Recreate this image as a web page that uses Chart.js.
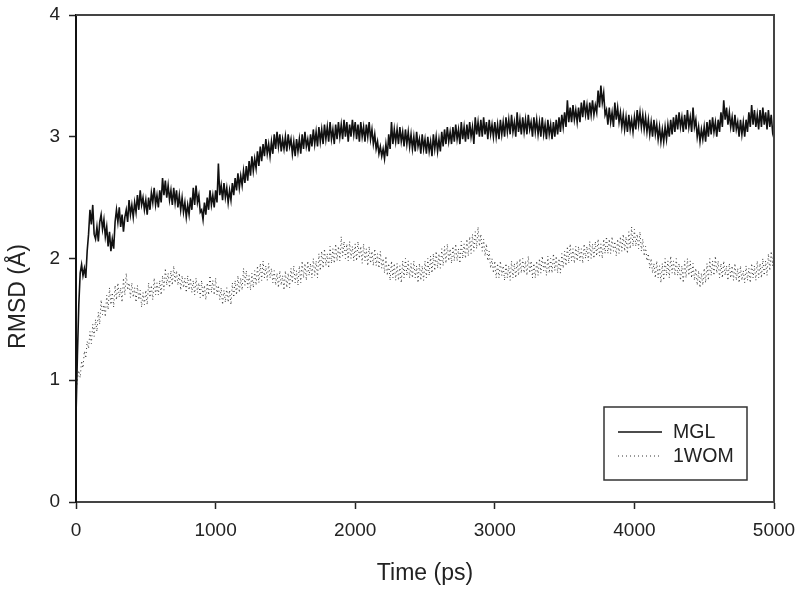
<!DOCTYPE html>
<html>
<head>
<meta charset="utf-8">
<script src="https://cdn.jsdelivr.net/npm/chart.js@4.4.0/dist/chart.umd.min.js"></script>
<style>
  html, body { margin: 0; padding: 0; background: #fff; }
  #wrap { width: 800px; height: 590px; }
</style>
</head>
<body>
<div id="wrap"><canvas id="rmsdChart" width="800" height="590"></canvas></div>
<script>
// sampling step of the trajectories, in ps
const stepPs = 10;

// RMSD (Å), one value every 10 ps, 0..5000 ps (one row = 100 ps)
const mglRmsd = [
  0.70, 1.20, 1.62, 1.88, 1.95, 1.86, 1.92, 1.84, 2.06, 2.20,
  2.40, 2.28, 2.44, 2.20, 2.16, 2.26, 2.14, 2.30, 2.36, 2.24,
  2.32, 2.18, 2.26, 2.10, 2.22, 2.06, 2.16, 2.08, 2.30, 2.40,
  2.30, 2.42, 2.26, 2.36, 2.22, 2.34, 2.40, 2.30, 2.48, 2.36,
  2.44, 2.34, 2.46, 2.38, 2.52, 2.40, 2.56, 2.44, 2.50, 2.40,
  2.48, 2.36, 2.50, 2.40, 2.54, 2.46, 2.58, 2.44, 2.52, 2.42,
  2.56, 2.46, 2.66, 2.52, 2.64, 2.50, 2.60, 2.48, 2.56, 2.44,
  2.58, 2.46, 2.56, 2.42, 2.52, 2.40, 2.50, 2.38, 2.46, 2.34,
  2.44, 2.36, 2.50, 2.40, 2.58, 2.44, 2.60, 2.46, 2.52, 2.38,
  2.40, 2.32, 2.46, 2.36, 2.50, 2.40, 2.56, 2.44, 2.52, 2.42,
  2.56, 2.46, 2.78, 2.52, 2.60, 2.48, 2.62, 2.50, 2.58, 2.46,
  2.56, 2.48, 2.62, 2.52, 2.66, 2.56, 2.70, 2.58, 2.68, 2.60,
  2.72, 2.62, 2.76, 2.64, 2.80, 2.68, 2.84, 2.72, 2.82, 2.74,
  2.88, 2.76, 2.92, 2.80, 2.94, 2.84, 2.98, 2.86, 2.94, 2.84,
  2.96, 2.86, 3.02, 2.90, 3.04, 2.92, 3.02, 2.88, 2.98, 2.90,
  3.00, 2.88, 3.02, 2.92, 2.98, 2.86, 2.96, 2.84, 2.98, 2.88,
  2.98, 2.86, 3.02, 2.90, 3.04, 2.92, 2.98, 2.88, 3.02, 2.92,
  3.06, 2.94, 3.04, 2.92, 3.08, 2.96, 3.06, 2.94, 3.10, 2.98,
  3.08, 2.96, 3.12, 2.98, 3.06, 2.94, 3.10, 2.98, 3.12, 3.00,
  3.10, 2.98, 3.14, 3.00, 3.12, 2.96, 3.10, 3.00, 3.14, 3.02,
  3.12, 2.98, 3.10, 2.96, 3.12, 3.00, 3.08, 2.96, 3.10, 3.00,
  3.12, 2.98, 3.06, 2.94, 3.02, 2.90, 2.96, 2.86, 2.92, 2.84,
  2.90, 2.82, 2.94, 2.84, 3.02, 2.90, 3.12, 2.94, 3.06, 2.96,
  3.06, 2.94, 3.08, 2.96, 3.04, 2.92, 3.06, 2.94, 3.04, 2.92,
  3.02, 2.90, 3.00, 2.88, 3.04, 2.92, 2.98, 2.86, 3.02, 2.90,
  2.98, 2.86, 3.00, 2.88, 2.96, 2.84, 3.02, 2.90, 3.00, 2.88,
  2.98, 2.88, 3.04, 2.92, 3.06, 2.94, 3.08, 2.96, 3.04, 2.94,
  3.08, 2.96, 3.10, 2.98, 3.06, 2.94, 3.12, 2.98, 3.08, 2.96,
  3.10, 2.98, 3.12, 3.00, 3.08, 2.94, 3.16, 3.02, 3.12, 3.00,
  3.14, 3.00, 3.16, 3.02, 3.12, 2.98, 3.14, 3.02, 3.10, 3.00,
  3.12, 3.00, 3.10, 2.98, 3.14, 3.02, 3.12, 3.00, 3.16, 3.04,
  3.14, 3.02, 3.18, 3.04, 3.12, 3.00, 3.20, 3.04, 3.14, 3.02,
  3.16, 3.04, 3.14, 3.02, 3.18, 3.06, 3.12, 3.00, 3.16, 3.04,
  3.14, 3.02, 3.12, 3.00, 3.16, 3.02, 3.10, 2.98, 3.14, 3.02,
  3.10, 2.98, 3.12, 3.00, 3.14, 3.02, 3.16, 3.04, 3.18, 3.08,
  3.20, 3.08, 3.30, 3.12, 3.24, 3.12, 3.26, 3.14, 3.22, 3.12,
  3.24, 3.12, 3.28, 3.16, 3.30, 3.18, 3.26, 3.14, 3.28, 3.18,
  3.30, 3.18, 3.26, 3.20, 3.38, 3.24, 3.42, 3.28, 3.36, 3.18,
  3.22, 3.10, 3.24, 3.12, 3.20, 3.08, 3.28, 3.14, 3.24, 3.12,
  3.20, 3.08, 3.18, 3.06, 3.16, 3.04, 3.18, 3.06, 3.14, 3.04,
  3.16, 3.06, 3.22, 3.10, 3.20, 3.08, 3.18, 3.06, 3.16, 3.04,
  3.14, 3.02, 3.12, 3.00, 3.14, 3.02, 3.10, 2.98, 3.08, 2.96,
  3.06, 2.96, 3.08, 2.98, 3.10, 3.00, 3.14, 3.02, 3.16, 3.04,
  3.18, 3.06, 3.20, 3.08, 3.16, 3.04, 3.18, 3.06, 3.22, 3.08,
  3.16, 3.04, 3.24, 3.08, 3.14, 3.00, 3.08, 2.96, 3.06, 2.98,
  3.08, 2.96, 3.12, 3.00, 3.14, 3.02, 3.16, 3.04, 3.12, 3.00,
  3.14, 3.04, 3.20, 3.08, 3.30, 3.14, 3.24, 3.10, 3.20, 3.08,
  3.16, 3.04, 3.18, 3.06, 3.12, 3.00, 3.14, 3.02, 3.12, 3.00,
  3.14, 3.04, 3.20, 3.08, 3.26, 3.10, 3.22, 3.08, 3.18, 3.06,
  3.22, 3.08, 3.24, 3.10, 3.20, 3.06, 3.22, 3.08, 3.18, 3.04,
  3.10
];

const womRmsd = [
  0.90, 1.00, 1.08, 1.02, 1.16, 1.10, 1.24, 1.18, 1.32, 1.26,
  1.40, 1.30, 1.46, 1.36, 1.50, 1.40, 1.56, 1.46, 1.66, 1.54,
  1.62, 1.52, 1.70, 1.58, 1.76, 1.62, 1.72, 1.60, 1.78, 1.66,
  1.80, 1.68, 1.76, 1.64, 1.84, 1.70, 1.88, 1.74, 1.80, 1.68,
  1.80, 1.68, 1.76, 1.64, 1.78, 1.66, 1.74, 1.60, 1.72, 1.62,
  1.74, 1.62, 1.80, 1.68, 1.78, 1.66, 1.84, 1.70, 1.80, 1.70,
  1.82, 1.70, 1.86, 1.74, 1.92, 1.78, 1.88, 1.76, 1.90, 1.78,
  1.94, 1.80, 1.90, 1.78, 1.88, 1.74, 1.86, 1.76, 1.84, 1.72,
  1.86, 1.74, 1.84, 1.72, 1.82, 1.70, 1.84, 1.72, 1.80, 1.68,
  1.82, 1.68, 1.78, 1.66, 1.80, 1.70, 1.86, 1.72, 1.82, 1.70,
  1.84, 1.70, 1.78, 1.66, 1.76, 1.62, 1.74, 1.64, 1.76, 1.64,
  1.74, 1.62, 1.80, 1.68, 1.82, 1.70, 1.86, 1.72, 1.84, 1.74,
  1.92, 1.78, 1.90, 1.76, 1.86, 1.74, 1.88, 1.76, 1.90, 1.78,
  1.94, 1.80, 1.96, 1.82, 1.98, 1.84, 1.94, 1.82, 1.96, 1.84,
  1.92, 1.80, 1.90, 1.78, 1.88, 1.76, 1.90, 1.78, 1.86, 1.74,
  1.90, 1.76, 1.88, 1.76, 1.92, 1.80, 1.94, 1.80, 1.90, 1.78,
  1.94, 1.80, 1.98, 1.84, 1.96, 1.82, 1.98, 1.86, 1.96, 1.84,
  2.00, 1.86, 1.98, 1.84, 2.04, 1.90, 2.06, 1.92, 2.08, 1.94,
  2.04, 1.92, 2.10, 1.96, 2.08, 1.96, 2.12, 1.98, 2.10, 1.98,
  2.18, 2.02, 2.14, 2.00, 2.12, 1.98, 2.14, 2.00, 2.10, 1.98,
  2.12, 1.98, 2.14, 2.00, 2.10, 1.96, 2.12, 1.98, 2.08, 1.94,
  2.10, 1.96, 2.06, 1.94, 2.08, 1.94, 2.04, 1.92, 2.06, 1.92,
  2.00, 1.88, 2.02, 1.86, 1.96, 1.82, 1.98, 1.84, 1.96, 1.82,
  1.96, 1.82, 1.94, 1.80, 1.98, 1.84, 2.00, 1.86, 1.98, 1.84,
  1.96, 1.84, 1.98, 1.84, 1.94, 1.80, 1.96, 1.82, 1.94, 1.82,
  1.98, 1.84, 2.00, 1.86, 2.02, 1.88, 2.04, 1.90, 2.06, 1.92,
  2.04, 1.92, 2.08, 1.94, 2.10, 1.96, 2.12, 1.98, 2.08, 1.96,
  2.10, 1.98, 2.12, 1.98, 2.08, 1.96, 2.14, 2.00, 2.12, 2.00,
  2.16, 2.02, 2.18, 2.04, 2.20, 2.06, 2.22, 2.08, 2.26, 2.10,
  2.20, 2.06, 2.16, 2.02, 2.12, 1.98, 2.06, 1.92, 2.00, 1.88,
  1.98, 1.84, 1.96, 1.84, 1.98, 1.86, 1.94, 1.82, 1.96, 1.84,
  1.94, 1.82, 1.98, 1.84, 1.96, 1.84, 1.98, 1.86, 2.00, 1.88,
  2.00, 1.88, 1.98, 1.86, 2.02, 1.88, 1.98, 1.84, 1.96, 1.84,
  1.98, 1.86, 2.00, 1.88, 2.02, 1.90, 1.98, 1.86, 2.02, 1.88,
  2.00, 1.88, 2.04, 1.90, 2.02, 1.88, 2.00, 1.88, 2.04, 1.92,
  2.06, 1.94, 2.10, 1.96, 2.12, 1.98, 2.08, 1.96, 2.10, 1.98,
  2.10, 1.98, 2.08, 1.96, 2.12, 2.00, 2.10, 1.98, 2.14, 2.00,
  2.12, 2.00, 2.14, 2.02, 2.16, 2.02, 2.12, 2.00, 2.16, 2.04,
  2.18, 2.04, 2.16, 2.04, 2.18, 2.06, 2.14, 2.02, 2.16, 2.04,
  2.18, 2.06, 2.20, 2.06, 2.18, 2.04, 2.22, 2.08, 2.26, 2.10,
  2.24, 2.10, 2.20, 2.08, 2.22, 2.06, 2.16, 2.02, 2.10, 1.98,
  2.04, 1.92, 2.00, 1.88, 1.96, 1.84, 1.98, 1.84, 1.94, 1.80,
  1.96, 1.82, 2.00, 1.86, 1.98, 1.84, 2.02, 1.88, 1.98, 1.86,
  2.00, 1.86, 1.96, 1.82, 1.94, 1.80, 1.98, 1.84, 2.00, 1.86,
  1.98, 1.84, 1.96, 1.82, 1.92, 1.78, 1.90, 1.76, 1.88, 1.78,
  1.92, 1.80, 1.96, 1.82, 2.00, 1.86, 1.98, 1.86, 2.02, 1.88,
  1.98, 1.84, 1.96, 1.84, 1.98, 1.86, 1.94, 1.82, 1.96, 1.84,
  1.94, 1.82, 1.96, 1.82, 1.92, 1.80, 1.94, 1.82, 1.90, 1.80,
  1.94, 1.82, 1.92, 1.80, 1.96, 1.84, 1.94, 1.82, 1.98, 1.84,
  1.96, 1.84, 2.00, 1.86, 1.98, 1.86, 2.04, 1.90, 2.06, 1.94,
  2.10
];

const seriesNames = ['MGL', '1WOM'];
const xTickValues = [0, 1000, 2000, 3000, 4000, 5000];
const yTickValues = [0, 1, 2, 3, 4];
const xTitle = 'Time (ps)';
const yTitle = 'RMSD (Å)';

const FONT = '"Liberation Sans", Arial, Helvetica, sans-serif';

function toPoints(values) {
  return values.map((v, i) => ({ x: i * stepPs, y: v }));
}

// box around the plot area (top and right edges) and the y title,
// which in the original sits below the middle of the axis
const frame = {
  id: 'frame',
  afterDatasetsDraw(chart) {
    const { ctx, chartArea: a } = chart;
    ctx.save();
    ctx.strokeStyle = '#444';
    ctx.lineWidth = 2;
    ctx.beginPath();
    ctx.moveTo(a.left, a.top);
    ctx.lineTo(a.right, a.top);
    ctx.lineTo(a.right, a.bottom);
    ctx.stroke();

    ctx.translate(19, (a.top + a.bottom) / 2 + 38);
    ctx.rotate(-Math.PI / 2);
    ctx.font = '23px ' + FONT;
    ctx.fillStyle = '#222';
    ctx.textAlign = 'center';
    ctx.textBaseline = 'middle';
    ctx.fillText(yTitle, 0, 0);
    ctx.restore();
  }
};

// boxed legend sitting in the lower right of the plot
const boxLegend = {
  id: 'boxLegend',
  afterDraw(chart) {
    const ctx = chart.ctx;
    const a = chart.chartArea;
    const bx = a.right - 170, by = a.bottom - 95, bw = 143, bh = 73;
    ctx.save();
    ctx.fillStyle = '#fff';
    ctx.fillRect(bx, by, bw, bh);
    ctx.strokeStyle = '#333';
    ctx.lineWidth = 1.5;
    ctx.strokeRect(bx, by, bw, bh);
    ctx.font = '19.5px ' + FONT;
    ctx.textBaseline = 'middle';
    chart.data.datasets.forEach((ds, i) => {
      const y = by + 25 + i * 24;
      ctx.strokeStyle = ds.borderColor;
      ctx.lineWidth = i === 0 ? 1.5 : 1;
      ctx.setLineDash(ds.borderDash || []);
      ctx.beginPath();
      ctx.moveTo(bx + 14, y);
      ctx.lineTo(bx + 58, y);
      ctx.stroke();
      ctx.setLineDash([]);
      ctx.fillStyle = '#222';
      ctx.fillText(ds.label, bx + 69, y + 1);
    });
    ctx.restore();
  }
};

new Chart(document.getElementById('rmsdChart'), {
  type: 'line',
  data: {
    datasets: [
      {
        label: seriesNames[0],
        data: toPoints(mglRmsd),
        borderColor: '#111',
        borderWidth: 1.6,
        pointRadius: 0,
        tension: 0,
        order: 1
      },
      {
        label: seriesNames[1],
        data: toPoints(womRmsd),
        borderColor: '#333',
        borderWidth: 1,
        borderDash: [1, 3],
        pointRadius: 0,
        tension: 0,
        order: 2
      }
    ]
  },
  options: {
    responsive: false,
    animation: false,
    devicePixelRatio: 1,
    layout: { padding: { top: 15, right: 26, left: 0, bottom: 0 } },
    plugins: {
      legend: { display: false },
      tooltip: { enabled: false }
    },
    scales: {
      x: {
        type: 'linear',
        min: 0,
        max: 5000,
        afterFit: s => { s.height = 88; s.paddingLeft = 0; s.paddingRight = 0; },
        afterBuildTicks: s => { s.ticks = xTickValues.map(v => ({ value: v })); },
        ticks: {
          color: '#222', font: { family: FONT, size: 19 }, padding: 10, maxRotation: 0,
          callback: v => String(v)
        },
        grid: { drawOnChartArea: false, drawTicks: true, tickLength: 7, tickColor: '#222', tickWidth: 1.5 },
        border: { display: true, color: '#444', width: 2 },
        title: {
          display: true, text: xTitle, color: '#222',
          font: { family: FONT, size: 23 }, padding: { top: 0, bottom: 3 }
        }
      },
      y: {
        type: 'linear',
        min: 0,
        max: 4,
        afterFit: s => { s.width = 76; s.paddingTop = 0; s.paddingBottom = 0; },
        afterBuildTicks: s => { s.ticks = yTickValues.map(v => ({ value: v })); },
        ticks: {
          color: '#222', font: { family: FONT, size: 19 }, padding: 9,
          callback: v => String(v)
        },
        grid: { drawOnChartArea: false, drawTicks: true, tickLength: 7, tickColor: '#222', tickWidth: 1.5 },
        border: { display: true, color: '#111', width: 2 },
        title: { display: false }
      }
    }
  },
  plugins: [frame, boxLegend]
});
</script>
</body>
</html>
